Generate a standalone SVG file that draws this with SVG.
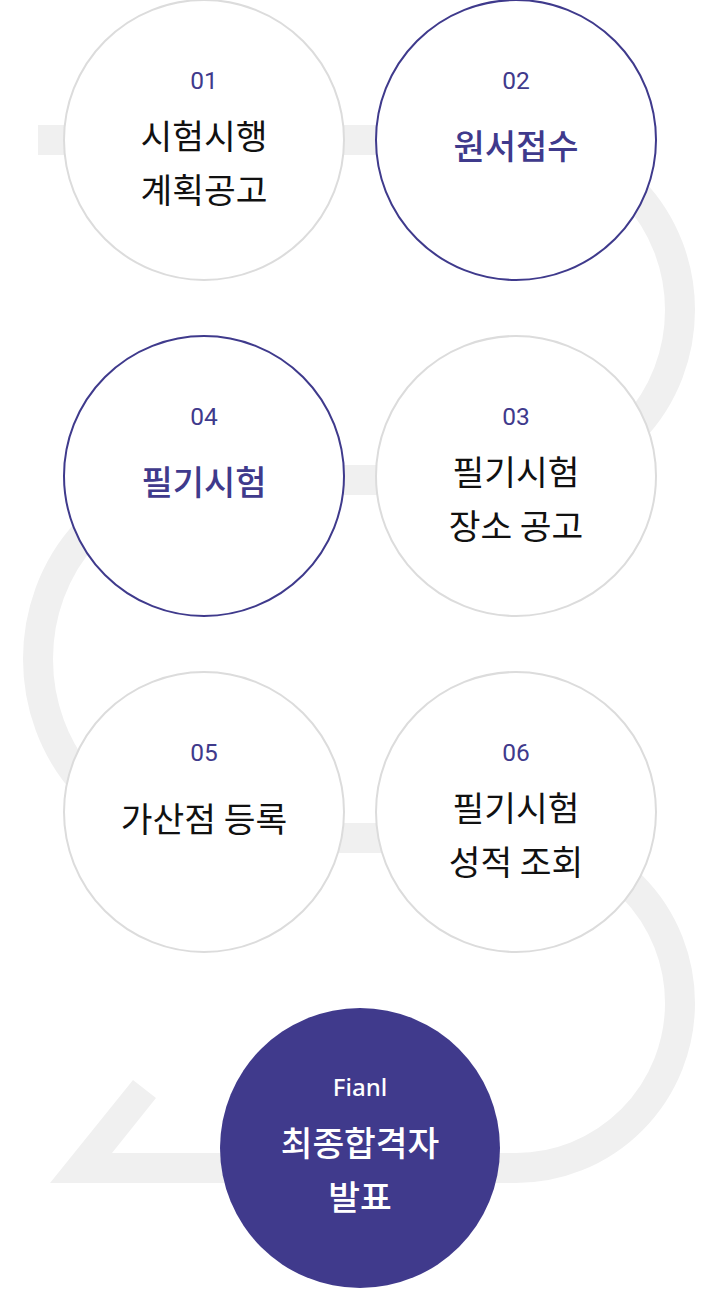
<svg xmlns="http://www.w3.org/2000/svg" width="720" height="1290" viewBox="0 0 720 1290">
<style>
.track{fill:none;stroke:#f0f0f0;stroke-width:30}
.trackfill{fill:#f0f0f0}
.c{fill:#fff;stroke:#dcdcdc;stroke-width:2}
.ch{fill:#fff;stroke:#3f3a8c;stroke-width:2}
.cf{fill:#403a8c}
.num{font-family:Roboto,"Noto Sans",sans-serif;font-size:24.5px;fill:#3f3a8c;text-anchor:middle}
.t{font-family:"Noto Sans CJK KR","Noto Sans",sans-serif;font-size:34.5px;fill:#111;text-anchor:middle}
.th{font-family:"Noto Sans CJK KR","Noto Sans",sans-serif;font-size:34px;font-weight:500;fill:#3f3a8c;text-anchor:middle}
.fn{font-family:"Noto Sans","Noto Sans CJK KR",sans-serif;font-size:24px;font-weight:500;fill:#fff;text-anchor:middle}
.ft{font-family:"Noto Sans CJK KR","Noto Sans",sans-serif;font-size:34.5px;font-weight:500;fill:#fff;text-anchor:middle}
</style>
<g id="connectors">
<path class="track" d="M38 140 H516 A164 170 0 0 1 516 480 H204 A166 179 0 0 0 204 838 H516 A164 165 0 0 1 516 1168"/>
<polygon class="trackfill" points="50,1183 516,1183 516,1153 112,1153 156,1098 133,1080"/>
</g>
<g id="node-01">
<circle class="c" cx="204" cy="140" r="140"/>
<text class="num" x="204" y="89">01</text>
<text class="t" x="204" y="149">시험시행</text>
<text class="t" x="204" y="203">계획공고</text>
</g>
<g id="node-02">
<circle class="ch" cx="516" cy="140" r="140"/>
<text class="num" x="516" y="89">02</text>
<text class="th" x="516" y="159">원서접수</text>
</g>
<g id="node-03">
<circle class="c" cx="516" cy="476" r="140"/>
<text class="num" x="516" y="425">03</text>
<text class="t" x="516" y="485">필기시험</text>
<text class="t" x="516" y="539">장소 공고</text>
</g>
<g id="node-04">
<circle class="ch" cx="204" cy="476" r="140"/>
<text class="num" x="204" y="425">04</text>
<text class="th" x="204" y="495">필기시험</text>
</g>
<g id="node-05">
<circle class="c" cx="204" cy="812" r="140"/>
<text class="num" x="204" y="761">05</text>
<text class="t" x="204" y="832">가산점 등록</text>
</g>
<g id="node-06">
<circle class="c" cx="516" cy="812" r="140"/>
<text class="num" x="516" y="761">06</text>
<text class="t" x="516" y="821">필기시험</text>
<text class="t" x="516" y="875">성적 조회</text>
</g>
<g id="node-final">
<circle class="cf" cx="360" cy="1148" r="140"/>
<text class="fn" x="360" y="1096">Fianl</text>
<text class="ft" x="360" y="1156">최종합격자</text>
<text class="ft" x="360" y="1210">발표</text>
</g>
</svg>
